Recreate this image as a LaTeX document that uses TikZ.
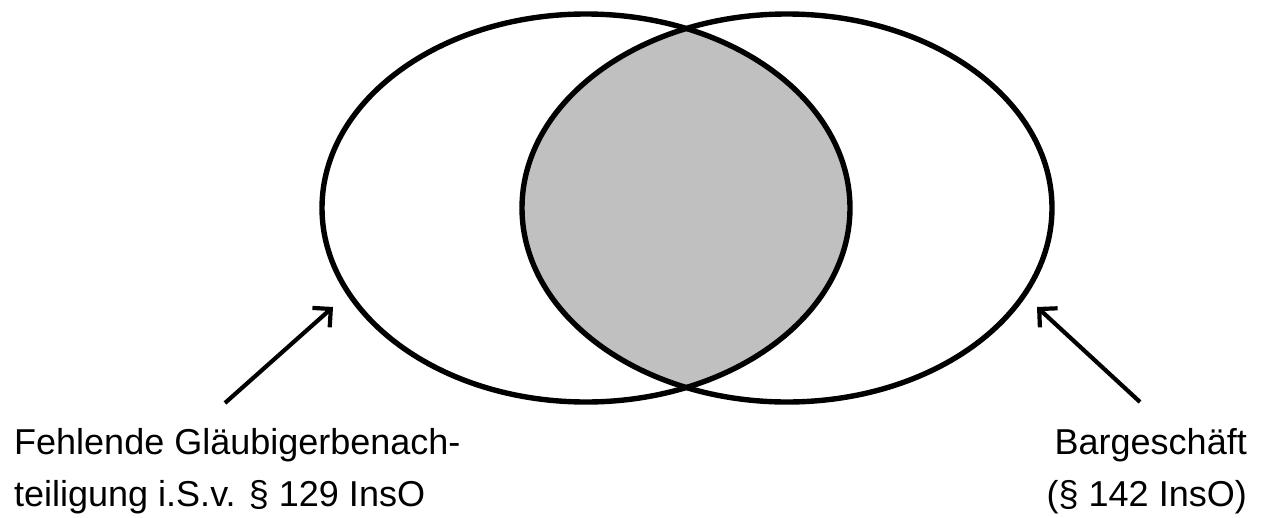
\documentclass[tikz,border=0pt]{standalone}
\usepackage{fontspec}
\setmainfont{Liberation Sans}
\usetikzlibrary{arrows.meta}
\definecolor{overlapgray}{RGB}{192,192,192}
\begin{document}
\begin{tikzpicture}[x=1pt,y=-1pt,
  ring/.style={line width=5.4pt},
  pointer/.style={line width=4.2pt,-{Straight Barb[length=13pt,width=26pt,line width=4.2pt]}},
  lbl/.style={font=\fontsize{36}{54}\selectfont, inner sep=0pt}]
\useasboundingbox (0,0) rectangle (1264,517);
\begin{scope}
  \clip (586,208) ellipse [x radius=264, y radius=194];
  \fill[overlapgray] (787,208) ellipse [x radius=265, y radius=194];
\end{scope}
\draw[ring] (586,208) ellipse [x radius=264, y radius=194];
\draw[ring] (787,208) ellipse [x radius=265, y radius=194];
\coordinate (la) at (225,403);
\coordinate (lb) at (333,307);
\coordinate (ra) at (1140,402);
\coordinate (rb) at (1037,307);
\draw[pointer] (la) -- (lb);
\draw[pointer] (ra) -- (rb);
\node[lbl, anchor=base west] (l1) at (14,454) {Fehlende Gläubigerbenach-};
\node[lbl, anchor=base west] (l2) at (14,506) {teiligung i.S.v. § 129 InsO};
\node[lbl, anchor=base east] (r1) at (1247,454) {Bargeschäft};
\node[lbl, anchor=base east] (r2) at (1247,506) {(§ 142 InsO)};
\end{tikzpicture}
\end{document}
